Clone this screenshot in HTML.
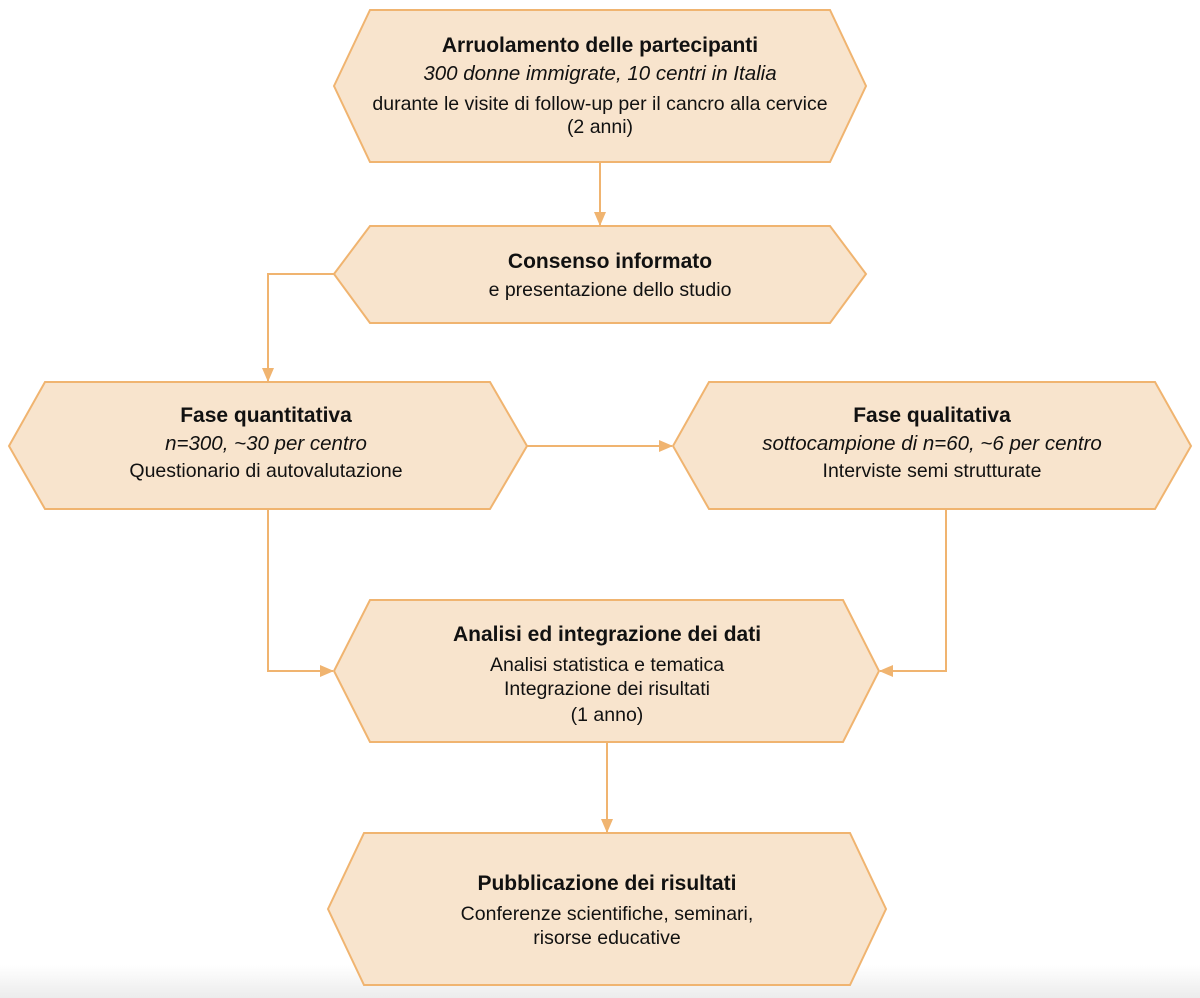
<!DOCTYPE html>
<html><head><style>
html,body{margin:0;padding:0;background:#fff;}
svg{display:block;}
text{font-family:"Liberation Sans",Arial,sans-serif;font-size:19.5px;fill:#111;}
.b{font-weight:bold;font-size:21px;}
.i{font-style:italic;font-size:20.5px;}
</style></head><body>
<svg width="1200" height="998" viewBox="0 0 1200 998">
<defs>
<linearGradient id="g" x1="0" y1="0" x2="0" y2="1">
<stop offset="0" stop-color="#fff"/><stop offset="1" stop-color="#ececec"/>
</linearGradient>
<marker id="a" markerWidth="14" markerHeight="12" refX="13" refY="6" orient="auto" markerUnits="userSpaceOnUse">
<path d="M0,0 L14,6 L0,12 Z" fill="#f0b470"/>
</marker>
</defs>
<rect x="0" y="965" width="1200" height="33" fill="url(#g)"/>
<g fill="#f8e4cd" stroke="#f0b470" stroke-width="2">
<polygon points="334,86 370,10 830,10 866,86 830,162 370,162"/>
<polygon points="334,274 370,226 830,226 866,274 830,323 370,323"/>
<polygon points="9,446 45,382 490,382 527,446 490,509 45,509"/>
<polygon points="673,446 709,382 1155,382 1191,446 1155,509 709,509"/>
<polygon points="334,671 370,600 843,600 879,671 843,742 370,742"/>
<polygon points="328,909 364,833 850,833 886,909 850,985 364,985"/>
</g>
<g fill="none" stroke="#f0b470" stroke-width="2">
<line x1="600" y1="162" x2="600" y2="225" marker-end="url(#a)"/>
<polyline points="334,274 268,274 268,381" marker-end="url(#a)"/>
<line x1="527" y1="446" x2="672" y2="446" marker-end="url(#a)"/>
<polyline points="268,509 268,671 333,671" marker-end="url(#a)"/>
<polyline points="946,509 946,671 880,671" marker-end="url(#a)"/>
<line x1="607" y1="742" x2="607" y2="832" marker-end="url(#a)"/>
</g>
<g text-anchor="middle">
<text x="600" y="52" class="b">Arruolamento delle partecipanti</text>
<text x="600" y="80" class="i">300 donne immigrate, 10 centri in Italia</text>
<text x="600" y="110">durante le visite di follow-up per il cancro alla cervice</text>
<text x="600" y="133">(2 anni)</text>
<text x="610" y="268" class="b">Consenso informato</text>
<text x="610" y="296">e presentazione dello studio</text>
<text x="266" y="422" class="b">Fase quantitativa</text>
<text x="266" y="450" class="i">n=300, ~30 per centro</text>
<text x="266" y="477">Questionario di autovalutazione</text>
<text x="932" y="422" class="b">Fase qualitativa</text>
<text x="932" y="450" class="i">sottocampione di n=60, ~6 per centro</text>
<text x="932" y="477">Interviste semi strutturate</text>
<text x="607" y="641" class="b">Analisi ed integrazione dei dati</text>
<text x="607" y="671">Analisi statistica e tematica</text>
<text x="607" y="695">Integrazione dei risultati</text>
<text x="607" y="721">(1 anno)</text>
<text x="607" y="890" class="b">Pubblicazione dei risultati</text>
<text x="607" y="920">Conferenze scientifiche, seminari,</text>
<text x="607" y="944">risorse educative</text>
</g>
</svg>
</body></html>
